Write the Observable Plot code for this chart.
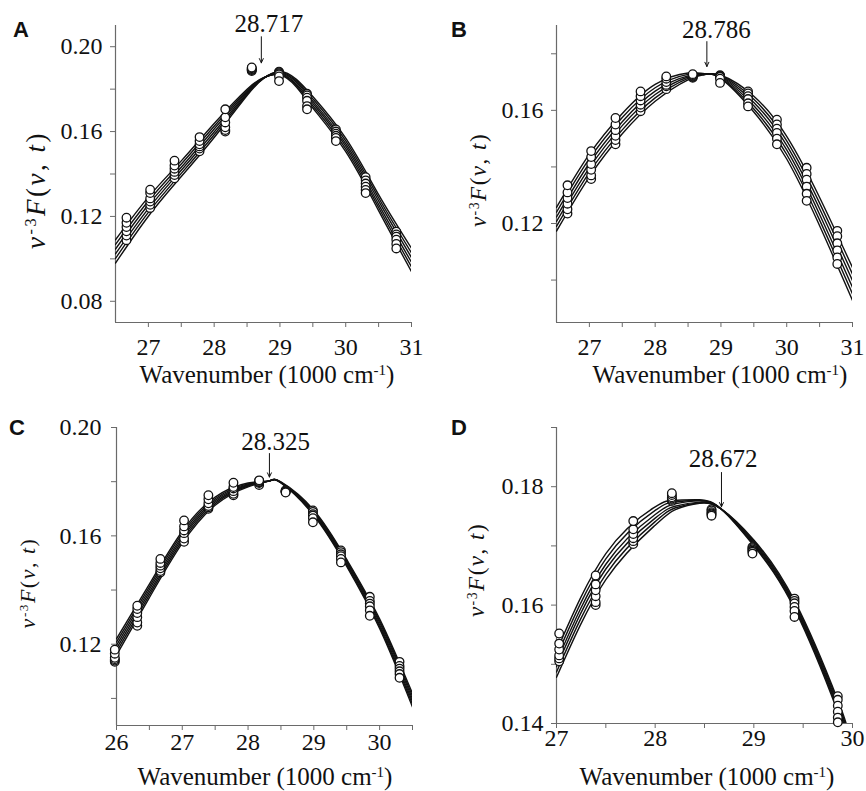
<!DOCTYPE html>
<html><head><meta charset="utf-8">
<script src="https://cdn.jsdelivr.net/npm/d3@7"></script>
<script src="https://cdn.jsdelivr.net/npm/@observablehq/plot@0.6"></script>
<style>
body{margin:0;background:#fff;}
#wrap{position:relative;width:866px;height:791px;overflow:hidden;background:#fff;}
#wrap svg{position:absolute;overflow:visible;}
</style></head><body><div id="wrap"></div>
<script>
// ---------- Panel A ----------
const A_CURVE_X = [26.5, 27, 27.5, 28, 28.5, 28.75, 29, 29.25, 29.5, 30, 30.5, 31];
const A_CURVE_Y = [
  [.1090, .1068, .1046, .1024, .1002, .0980],
  [.1291, .1273, .1255, .1237, .1219, .1201],
  [.1462, .1447, .1432, .1418, .1403, .1388],
  [.1638, .1625, .1612, .1598, .1585, .1572],
  [.1800, .1794, .1788, .1782, .1776, .1770],
  [.1854, .1853, .1852, .1852, .1851, .1850],
  [.1867, .1870, .1873, .1877, .1880, .1883],
  [.1810, .1817, .1824, .1832, .1839, .1846],
  [.1711, .1722, .1733, .1743, .1754, .1765],
  [.1505, .1518, .1531, .1543, .1556, .1569],
  [.1227, .1242, .1257, .1273, .1288, .1303],
  [.0940, .0962, .0984, .1006, .1028, .1050]
];
const A_POINT_X = [26.667, 27.027, 27.397, 27.778, 28.169, 28.571, 28.986, 29.412, 29.851, 30.303, 30.769];
const A_POINT_Y = [
  [.1194, .1170, .1150, .1130, .1110, .1088],
  [.1326, .1310, .1285, .1270, .1255, .1240],
  [.1463, .1440, .1425, .1410, .1395, .1380],
  [.1574, .1555, .1540, .1530, .1520, .1507],
  [.1705, .1667, .1643, .1620, .1607, .1600],
  [.1902, .1898, .1895, .1892, .1890, .1885],
  [.1838, .1860, .1870, .1875, .1880, .1882],
  [.1705, .1720, .1745, .1760, .1770, .1778],
  [.1555, .1570, .1580, .1590, .1600, .1610],
  [.1310, .1325, .1340, .1355, .1370, .1385],
  [.1049, .1070, .1090, .1105, .1115, .1128]
];
const A_X_TICKS = [27, 28, 29, 30, 31];
const A_X_MINOR = [27.5, 28.5, 29.5, 30.5];
const A_Y_TICKS = [0.08, 0.12, 0.16, 0.20];
const A_Y_MINOR = [0.10, 0.14, 0.18];
const A_PEAK = 28.717;

// ---------- Panel B ----------
const B_CURVE_X = [26.5, 27, 27.5, 28, 28.5, 28.75, 29, 29.5, 30, 30.5, 31];
const B_CURVE_Y = [
  [.1257, .1240, .1223, .1207, .1190, .1173],
  [.1445, .1429, .1413, .1397, .1381, .1365],
  [.1589, .1575, .1560, .1546, .1531, .1517],
  [.1692, .1680, .1668, .1656, .1644, .1632],
  [.1732, .1727, .1722, .1718, .1713, .1708],
  [.1730, .1729, .1728, .1728, .1727, .1726],
  [.1712, .1714, .1717, .1719, .1722, .1724],
  [.1594, .1605, .1616, .1628, .1639, .1650],
  [.1428, .1444, .1460, .1476, .1492, .1508],
  [.1192, .1212, .1232, .1252, .1272, .1292],
  [.0928, .0951, .0974, .0998, .1021, .1044]
];
const B_POINT_X = [26.667, 27.027, 27.397, 27.778, 28.169, 28.571, 28.986, 29.412, 29.851, 30.303, 30.769];
const B_POINT_Y = [
  [.1335, .1310, .1290, .1270, .1250, .1235],
  [.1456, .1435, .1410, .1390, .1370, .1357],
  [.1573, .1550, .1530, .1510, .1495, .1480],
  [.1667, .1650, .1635, .1620, .1610, .1597],
  [.1720, .1712, .1700, .1690, .1685, .1675],
  [.1728, .1725, .1722, .1720, .1718, .1715],
  [.1697, .1712, .1718, .1720, .1722, .1724],
  [.1614, .1625, .1640, .1650, .1660, .1667],
  [.1480, .1500, .1520, .1535, .1550, .1567],
  [.1280, .1305, .1330, .1355, .1375, .1397],
  [.1057, .1080, .1105, .1130, .1155, .1174]
];
const B_X_TICKS = [27, 28, 29, 30, 31];
const B_X_MINOR = [27.5, 28.5, 29.5, 30.5];
const B_Y_TICKS = [0.12, 0.16];
const B_Y_MINOR = [0.10, 0.14, 0.18];
const B_PEAK = 28.786;

// ---------- Panel C ----------
const C_CURVE_X = [26, 26.5, 27, 27.5, 28, 28.325, 28.5, 29, 29.5, 30, 30.5];
const C_CURVE_Y = [
  [.1220, .1208, .1196, .1184, .1172, .1160],
  [.1422, .1412, .1402, .1392, .1382, .1372],
  [.1617, .1608, .1599, .1591, .1582, .1573],
  [.1743, .1737, .1731, .1725, .1719, .1713],
  [.1795, .1792, .1789, .1787, .1784, .1781],
  [.1803, .1803, .1803, .1803, .1803, .1803],
  [.1795, .1796, .1797, .1797, .1798, .1799],
  [.1675, .1679, .1683, .1687, .1691, .1695],
  [.1487, .1492, .1497, .1503, .1508, .1513],
  [.1258, .1265, .1272, .1280, .1287, .1294],
  [.0968, .0978, .0988, .0998, .1008, .1018]
];
const C_POINT_X = [25.974, 26.316, 26.667, 27.027, 27.397, 27.778, 28.169, 28.571, 28.986, 29.412, 29.851, 30.303];
const C_POINT_Y = [
  [.1180, .1165, .1150, .1145, .1140, .1135],
  [.1342, .1330, .1315, .1300, .1280, .1268],
  [.1515, .1500, .1490, .1480, .1470, .1465],
  [.1657, .1635, .1620, .1610, .1590, .1578],
  [.1750, .1735, .1720, .1710, .1705, .1700],
  [.1796, .1780, .1775, .1765, .1755, .1750],
  [.1805, .1803, .1800, .1798, .1795, .1788],
  [.1760, .1762, .1764, .1765, .1766, .1768],
  [.1650, .1665, .1675, .1680, .1688, .1694],
  [.1502, .1515, .1525, .1532, .1540, .1546],
  [.1305, .1325, .1340, .1350, .1360, .1375],
  [.1076, .1090, .1100, .1110, .1120, .1135]
];
const C_X_TICKS = [26, 27, 28, 29, 30];
const C_X_MINOR = [26.5, 27.5, 28.5, 29.5, 30.5];
const C_Y_TICKS = [0.12, 0.16, 0.20];
const C_Y_MINOR = [0.10, 0.14, 0.18];
const C_PEAK = 28.325;

// ---------- Panel D ----------
const D_CURVE_X = [27, 27.5, 28, 28.2, 28.45, 28.672, 29, 29.42, 29.85, 29.95];
const D_CURVE_Y = [
  [.1522, .1513, .1504, .1496, .1487, .1478],
  [.1687, .1678, .1669, .1661, .1652, .1643],
  [.1766, .1760, .1753, .1747, .1741, .1735],
  [.1777, .1774, .1771, .1767, .1764, .1761],
  [.1778, .1777, .1776, .1774, .1773, .1772],
  [.1762, .1762, .1762, .1762, .1762, .1762],
  [.1700, .1702, .1704, .1706, .1708, .1710],
  [.1591, .1594, .1597, .1599, .1602, .1605],
  [.1420, .1424, .1428, .1432, .1436, .1440],
  [.1370, .1374, .1378, .1382, .1386, .1390]
];
const D_POINT_X = [27.027, 27.397, 27.778, 28.169, 28.571, 28.986, 29.412, 29.851];
const D_POINT_Y = [
  [.1552, .1535, .1525, .1515, .1510, .1505],
  [.1650, .1635, .1625, .1615, .1605, .1600],
  [.1742, .1728, .1720, .1713, .1708, .1703],
  [.1789, .1786, .1782, .1780, .1778, .1776],
  [.1751, .1753, .1755, .1757, .1760, .1762],
  [.1687, .1690, .1692, .1694, .1696, .1698],
  [.1580, .1590, .1597, .1603, .1607, .1611],
  [.1402, .1410, .1420, .1430, .1440, .1446]
];
const D_X_TICKS = [27, 28, 29, 30];
const D_X_MINOR = [27.5, 28.5, 29.5];
const D_Y_TICKS = [0.14, 0.16, 0.18];
const D_Y_MINOR = [0.15, 0.17, 0.19];
const D_PEAK = 28.672;

const PANEL_LETTERS = ["A", "B", "C", "D"];
const X_TITLE = ["Wavenumber (1000 cm", "-1", ")"];
const Y_TITLE = ["ν", "-3", "F", "(", "ν", ", ", "t", ")"];

// ---------- layout / style (not data) ----------
const SERIF = "'Liberation Serif','Times New Roman',serif";
const SANS = "'Liberation Sans',Arial,sans-serif";
const AXIS = "#6a6a6a";
const INK = "#111";
const TICK = 5;

const panels = [
  {letter: PANEL_LETTERS[0], left: 0, top: 0, h: 395, ml: 115, mt: 25, mr: 22, mb: 73,
   xd: [26.5, 31], yd: [0.07, 0.21], cx: A_CURVE_X, cy: A_CURVE_Y, px: A_POINT_X, py: A_POINT_Y,
   xt: A_X_TICKS, xm: A_X_MINOR, yt: A_Y_TICKS, ym: A_Y_MINOR, peak: A_PEAK,
   note: {x: 28.83, y: 0.2107, y1: 0.2047, y2: 0.1924}, xpad: 10, ypad: 8,
   xl: [267, 383], yl: [45, 190], ylSize: 27, ylSpace: 2.5, lt: [21, 37]},
  {letter: PANEL_LETTERS[1], left: 433, top: 0, h: 395, ml: 123, mt: 25, mr: 14, mb: 73,
   xd: [26.5, 31], yd: [0.085, 0.19], cx: B_CURVE_X, cy: B_CURVE_Y, px: B_POINT_X, py: B_POINT_Y,
   xt: B_X_TICKS, xm: B_X_MINOR, yt: B_Y_TICKS, ym: B_Y_MINOR, peak: B_PEAK,
   note: {x: 28.93, y: 0.1885, y1: 0.1843, y2: 0.1755}, xpad: 10, ypad: 8,
   xl: [287, 383], yl: [53, 180], ylSize: 23, ylSpace: 1.5, lt: [26, 37]},
  {letter: PANEL_LETTERS[2], left: 0, top: 395, h: 396, ml: 116, mt: 32, mr: 21, mb: 66,
   xd: [26, 30.5], yd: [0.09, 0.20], cx: C_CURVE_X, cy: C_CURVE_Y, px: C_POINT_X, py: C_POINT_Y,
   xt: C_X_TICKS, xm: C_X_MINOR, yt: C_Y_TICKS, ym: C_Y_MINOR, peak: C_PEAK,
   note: {x: 28.42, y: 0.1947, y1: 0.1904, y2: 0.1817}, xpad: 2, ypad: 10,
   xl: [265, 390], yl: [35, 188], ylSize: 22, ylSpace: 1.5, lt: [17, 40]},
  {letter: PANEL_LETTERS[3], left: 433, top: 395, h: 396, ml: 123, mt: 32, mr: 14, mb: 68,
   xd: [27, 30], yd: [0.14, 0.19], cx: D_CURVE_X, cy: D_CURVE_Y, px: D_POINT_X, py: D_POINT_Y,
   xt: D_X_TICKS, xm: D_X_MINOR, yt: D_Y_TICKS, ym: D_Y_MINOR, peak: D_PEAK,
   note: {x: 28.69, y: 0.1847, y1: 0.1824, y2: 0.1766}, xpad: 0, ypad: 8,
   xl: [274, 390], yl: [51, 175], ylSize: 23, ylSpace: 1.5, lt: [26, 40]}
];

function tidy(xs, rows) {
  const out = [];
  xs.forEach((x, i) => rows[i].forEach((v, k) => out.push({x, y: v, s: k})));
  return out;
}

function rich(svg, x, y, rot, size, parts, spacing) {
  const t = d3.select(svg).append("text")
    .attr("transform", `translate(${x},${y}) rotate(${rot})`)
    .attr("text-anchor", "middle")
    .attr("font-size", size)
    .attr("fill", INK)
    .style("font-family", SERIF);
  if (spacing) t.attr("letter-spacing", spacing);
  parts.forEach(p => {
    const ts = t.append("tspan").text(p.t);
    if (p.i) ts.attr("font-style", "italic");
    if (p.sup) ts.attr("baseline-shift", "super").attr("font-size", size * 0.6);
  });
  return t;
}

const fmtY = d3.format(".2f");
const wrap = document.getElementById("wrap");
panels.forEach(p => {
  const curves = tidy(p.cx, p.cy);
  const points = tidy(p.px, p.py).sort((a, b) => b.s - a.s);
  const svg = Plot.plot({
    width: 433, height: p.h,
    marginLeft: p.ml, marginTop: p.mt, marginRight: p.mr, marginBottom: p.mb,
    x: {domain: p.xd},
    y: {domain: p.yd},
    style: {fontFamily: SERIF, fontSize: "24px", color: INK, background: "transparent", overflow: "visible"},
    marks: [
      // tick marks (grey, outward, no labels)
      Plot.axisX({ticks: p.xt.concat(p.xm), tickSize: TICK, tickFormat: () => "", label: null, stroke: AXIS}),
      Plot.axisY({ticks: p.yt.concat(p.ym), tickSize: TICK, tickFormat: () => "", label: null, stroke: AXIS}),
      // tick labels, positioned through the scales
      Plot.text(p.xt, {x: d => d, frameAnchor: "bottom", lineAnchor: "top", dy: TICK + p.xpad,
        text: d => String(d), fontSize: 24, fontFamily: SERIF, fill: INK}),
      Plot.text(p.yt, {y: d => d, frameAnchor: "left", textAnchor: "end", dx: -(TICK + p.ypad),
        text: d => fmtY(d), fontSize: 24, fontFamily: SERIF, fill: INK}),
      Plot.ruleX([p.xd[0]], {stroke: AXIS, strokeWidth: 1.2}),
      Plot.ruleY([p.yd[0]], {stroke: AXIS, strokeWidth: 1.2}),
      Plot.line(curves, {x: "x", y: "y", z: "s", curve: "natural", stroke: INK, strokeWidth: 1.4, clip: true}),
      Plot.dot(points, {x: "x", y: "y", r: 4.3, fill: "white", stroke: INK, strokeWidth: 1.3}),
      Plot.arrow([{x: p.peak, y1: p.note.y1, y2: p.note.y2}], {x1: "x", x2: "x", y1: "y1", y2: "y2", stroke: INK, strokeWidth: 1, headLength: 7, headAngle: 50}),
      Plot.text([{x: p.note.x, y: p.note.y, label: p.peak.toFixed(3)}], {x: "x", y: "y", text: "label", fontSize: 25, fontFamily: SERIF, fill: INK})
    ]
  });
  svg.style.left = p.left + "px";
  svg.style.top = p.top + "px";
  rich(svg, p.xl[0], p.xl[1], 0, 25, [{t: X_TITLE[0]}, {t: X_TITLE[1], sup: true}, {t: X_TITLE[2]}]);
  rich(svg, p.yl[0], p.yl[1], -90, p.ylSize, [
    {t: Y_TITLE[0], i: true}, {t: Y_TITLE[1], sup: true}, {t: Y_TITLE[2], i: true}, {t: Y_TITLE[3]},
    {t: Y_TITLE[4], i: true}, {t: Y_TITLE[5]}, {t: Y_TITLE[6], i: true}, {t: Y_TITLE[7]}], p.ylSpace);
  d3.select(svg).append("text").attr("x", p.lt[0]).attr("y", p.lt[1])
    .style("font-family", SANS).attr("font-weight", "bold").attr("font-size", 22).attr("fill", INK).text(p.letter);
  wrap.appendChild(svg);
});
</script></body></html>
